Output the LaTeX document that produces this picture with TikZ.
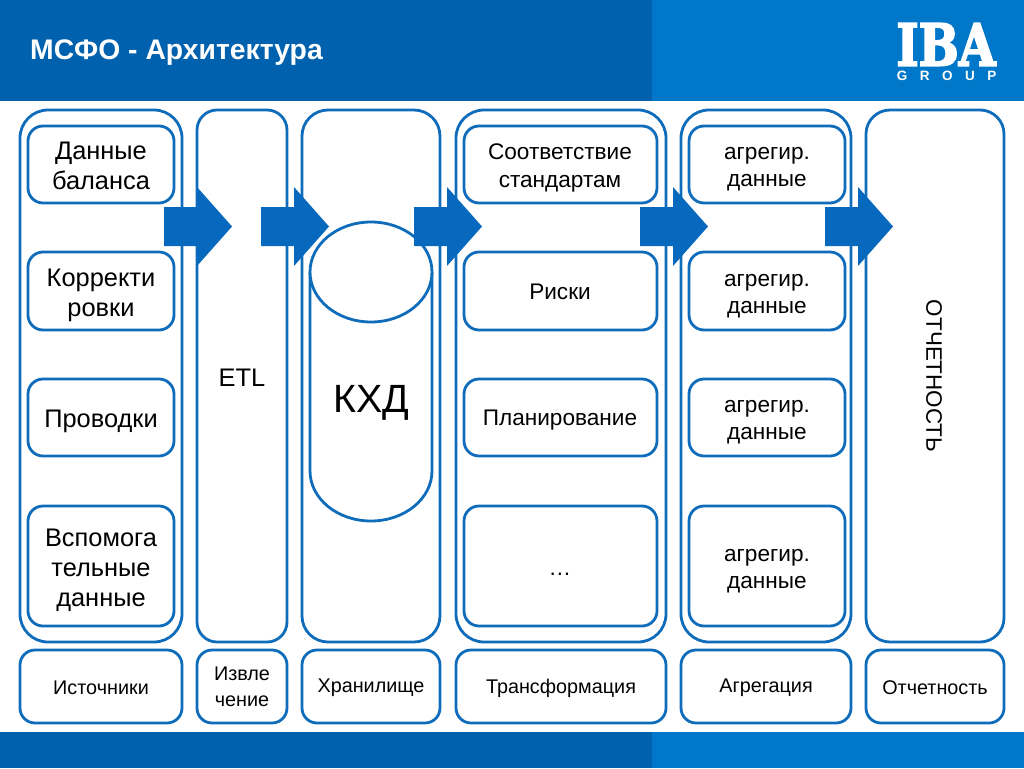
\documentclass[tikz,border=0pt]{standalone}
\usepackage{fontspec}
\setmainfont{Liberation Sans}
\newfontfamily\logofont[FakeBold=3.5]{DejaVu Serif Bold}
\definecolor{dkblue}{HTML}{0061AE}
\definecolor{ltblue}{HTML}{0077C8}
\definecolor{lineblue}{HTML}{0F6CBA}
\definecolor{arrowblue}{HTML}{0669BE}
\newcommand{\fs}[1]{\fontsize{#1}{#1}\selectfont}
\begin{document}
\begin{tikzpicture}[x=1pt,y=-1pt,
  box/.style={draw=lineblue,line width=2.8pt,fill=white,rounded corners=#1},
  box/.default=15pt,
  lbl/.style={align=center,text=black,inner sep=0pt},
  big/.style={lbl,font=\fs{25.4}},
  mid/.style={lbl,font=\fs{22.6}},
  sml/.style={lbl,font=\fs{19.8}},
  blockarrow/.style={fill=arrowblue,draw=none}]
\useasboundingbox (0,0) rectangle (1024,768);
% header / footer bands
\fill[dkblue] (0,0) rectangle (652,101);
\fill[ltblue] (652,0) rectangle (1024,101);
\fill[dkblue] (0,732) rectangle (652,768);
\fill[ltblue] (652,732) rectangle (1024,768);
\node[anchor=west,inner sep=0pt,text=white,font=\bfseries\fs{28.3}] (title) at (30,53) {МСФО - Архитектура};
\node[inner sep=0pt,text=white,anchor=center] (logo) at (946,44.5) {\resizebox{99pt}{42pt}{\logofont IBA}};
\node[inner sep=0pt,text=white,anchor=center,font=\bfseries\fs{13.5}] (group) at (946.5,76) {G\hspace{12.5pt}R\hspace{12.5pt}O\hspace{12.5pt}U\hspace{12.5pt}P};
% columns
\draw[box=28pt] (20,110) rectangle (182,642);
\draw[box=20pt] (197,110) rectangle (287,642);
\draw[box=26pt] (302,110) rectangle (440,642);
\draw[box=28pt] (456,110) rectangle (666,642);
\draw[box=28pt] (681,110) rectangle (851,642);
\draw[box=24pt] (866,110) rectangle (1004,642);
% inner boxes
\foreach \a/\b/\n in {126/203/a,252/330/b,379/456/c,506/626/d}{
  \draw[box] (28,\a) rectangle (174,\b);
  \draw[box] (464,\a) rectangle (657,\b);
  \draw[box] (689,\a) rectangle (845,\b);
}
% bottom labels
\foreach \a/\b in {20/182,197/287,302/440,456/666,681/851,866/1004}{
  \draw[box] (\a,650) rectangle (\b,723);
}
% cylinder
\draw[draw=lineblue,line width=2.8pt,fill=white] (310,272) -- (310,471) arc[start angle=180,end angle=0,x radius=61,y radius=50] -- (432,272);
\draw[draw=lineblue,line width=2.8pt,fill=white] (371,272) ellipse[x radius=61,y radius=50];
% arrows
\foreach \x in {0,97,250,476,661}{
  \fill[blockarrow,xshift=\x pt] (164,207) -- (197,207) -- (197,187) -- (232,226.5) -- (197,266) -- (197,246) -- (164,246) -- cycle;
}
% texts
\node[big] (t1) at (101,166) {Данные\\[4.5pt]баланса};
\node[big] (t2) at (101,295) {Корректи\\[4.5pt]ровки};
\node[big] (t3) at (101,421) {Проводки};
\node[big] (t4) at (101,570) {Вспомога\\[4.5pt]тельные\\[4.5pt]данные};
\node[big] (etl) at (242,378) {ETL};
\node[lbl,font=\fs{39.4}] (kxd) at (371,403) {КХД};
\node[mid] (s1) at (560,168) {Соответствие\\[5pt]стандартам};
\node[mid] (s2) at (560,292) {Риски};
\node[mid] (s3) at (560,420) {Планирование};
\node[mid] (s4) at (560,574) {…};
\foreach \y/\n in {169/a,296/b,422/c,571/d}{
  \node[mid] (g\n) at (767,\y) {агрегир.\\[5pt]данные};
}
\node[lbl,font=\fs{22.4},rotate=-90] (otch) at (934,376) {ОТЧЕТНОСТЬ};
\node[sml] (b1) at (101,688) {Источники};
\node[sml] (b2) at (242,687) {Извле\\[6pt]чение};
\node[sml] (b3) at (371,688) {Хранилище};
\node[sml] (b4) at (561,688) {Трансформация};
\node[sml] (b5) at (766,688) {Агрегация};
\node[sml] (b6) at (935,688) {Отчетность};
\end{tikzpicture}
\end{document}
